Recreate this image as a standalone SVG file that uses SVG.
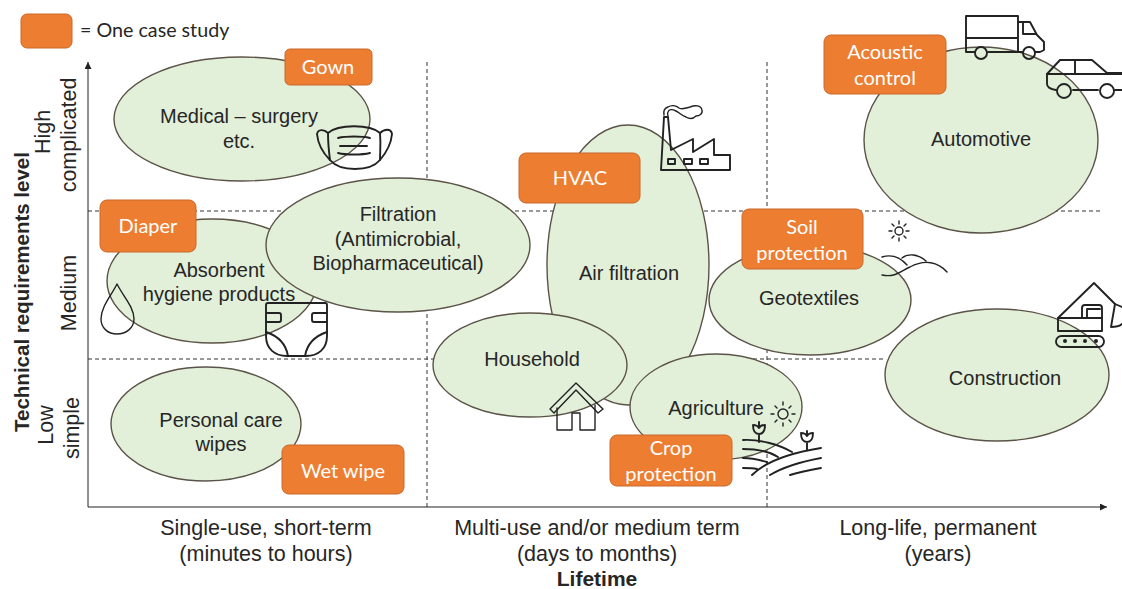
<svg xmlns="http://www.w3.org/2000/svg" width="1122" height="589" viewBox="0 0 1122 589">
<style>
.e{fill:#e2efd9;stroke:#5b5347;stroke-width:1.4}
.b{fill:#ed7d31;stroke:#c9682a;stroke-width:1}
.t{font-family:"Liberation Sans",Arial,sans-serif;font-size:20px;fill:#262626;text-anchor:middle}
.x{font-family:"Liberation Sans",Arial,sans-serif;font-size:21.5px;fill:#262626;text-anchor:middle}
.o{font-family:Lato,"Noto Sans",sans-serif;font-size:20px;fill:#fff;text-anchor:middle}
.l{font-family:Lato,"Noto Sans",sans-serif;font-size:19.7px;fill:#262626}
.h{font-family:"Liberation Sans",Arial,sans-serif;font-size:20.5px;font-weight:bold;fill:#262626;text-anchor:middle}
.d{stroke:#333;stroke-width:1;stroke-dasharray:4 3;fill:none}
.a{stroke:#222;stroke-width:1;fill:none}
.i{fill:none;stroke:#222;stroke-width:1.9;stroke-linecap:round;stroke-linejoin:round}
.i1{fill:none;stroke:#222;stroke-width:1.4;stroke-linecap:round;stroke-linejoin:round}
</style>
<defs>
<marker id="ah" markerWidth="8" markerHeight="8" refX="7" refY="3.5" orient="auto" markerUnits="userSpaceOnUse"><path d="M0 0L7 3.5L0 7Z" fill="#222"/></marker>
</defs>
<rect width="1122" height="589" fill="#fff"/>
<g id="connectors">
<path class="d" d="M88 211H1103M88 359H884M427 62V507M767 62V507"/>
<path class="a" d="M88 507V62" marker-end="url(#ah)"/>
<path class="a" d="M88 507H1107" marker-end="url(#ah)"/>
</g>
<g id="legend"><rect class="b" x="21" y="14" width="51" height="34" rx="6"/><text class="l" x="80" y="37">= One case study</text></g>
<g id="medical"><ellipse class="e" cx="242" cy="119" rx="128" ry="62"/><text class="t" x="239" y="123">Medical – surgery</text><text class="t" x="239" y="148">etc.</text></g>
<g id="absorbent"><ellipse class="e" cx="212" cy="281" rx="105" ry="62"/><text class="t" x="219" y="277">Absorbent</text><text class="t" x="219" y="301">hygiene products</text></g>
<g id="filtration"><ellipse class="e" cx="398" cy="245" rx="132" ry="67"/><text class="t" x="398" y="221">Filtration</text><text class="t" x="398" y="246">(Antimicrobial,</text><text class="t" x="398" y="270">Biopharmaceutical)</text></g>
<g id="personal"><ellipse class="e" cx="206" cy="424" rx="95" ry="57"/><text class="t" x="221" y="427">Personal care</text><text class="t" x="221" y="451">wipes</text></g>
<g id="air"><ellipse class="e" cx="628" cy="265" rx="81" ry="140"/><text class="t" x="629" y="280">Air filtration</text></g>
<g id="agriculture"><ellipse class="e" cx="716" cy="407" rx="86" ry="53"/><text class="t" x="716" y="415">Agriculture</text></g>
<g id="household"><ellipse class="e" cx="530" cy="365" rx="97" ry="52"/><text class="t" x="532" y="366">Household</text></g>
<g id="geotextiles"><ellipse class="e" cx="810" cy="300" rx="101" ry="55"/><text class="t" x="809" y="305">Geotextiles</text></g>
<g id="automotive"><ellipse class="e" cx="981" cy="140" rx="117" ry="93"/><text class="t" x="981" y="146">Automotive</text></g>
<g id="construction"><ellipse class="e" cx="997" cy="375" rx="112" ry="66"/><text class="t" x="1005" y="385">Construction</text></g>

<g id="gown"><rect class="b" x="285" y="49" width="87" height="36" rx="5"/><text class="o" x="328" y="74">Gown</text></g>
<g id="acoustic"><rect class="b" x="824" y="35" width="122" height="59" rx="7"/><text class="o" x="885" y="59">Acoustic</text><text class="o" x="885" y="85">control</text></g>
<g id="hvac"><rect class="b" x="519" y="153" width="121" height="50" rx="7"/><text class="o" x="580" y="185">HVAC</text></g>
<g id="diaper"><rect class="b" x="100" y="200" width="96" height="52" rx="7"/><text class="o" x="148" y="233">Diaper</text></g>
<g id="soil"><rect class="b" x="742" y="209" width="121" height="60" rx="7"/><text class="o" x="802" y="234">Soil</text><text class="o" x="802" y="260">protection</text></g>
<g id="crop"><rect class="b" x="610" y="435" width="122" height="51" rx="7"/><text class="o" x="671" y="455">Crop</text><text class="o" x="671" y="481">protection</text></g>
<g id="wetwipe"><rect class="b" x="282" y="445" width="122" height="49" rx="7"/><text class="o" x="343" y="478">Wet wipe</text></g>

<g id="mask-icon" class="i"><path d="M328 133C338 124 370 124 380 133C381 145 380 152 380 160C370 172 340 172 330 160C329 152 328 145 328 133Z"/><path d="M328 133C324 129 318 129 317 134C318 145 323 153 330 160M380 133C384 129 391 128 392 134C391 145 386 153 380 160"/><path d="M338 138C346 136 362 136 370 138M340 146H367M338 153C346 155 362 155 370 153"/></g>
<g id="drop-icon" class="i1"><path d="M117 284C111 296 101 307 101 319C101 328 108 334 117 334C126 334 134 328 134 319C134 307 123 296 117 284Z"/></g>
<g id="diaper-icon" class="i"><path d="M268 303H325Q327 303 327 305V336C327 349 318 356 306 356H287C275 356 266 349 266 336V305Q266 303 268 303Z"/><path d="M267 313H279Q281 313 281 315V320Q281 322 279 322H267M326 313H314Q312 313 312 315V320Q312 322 314 322H326"/><path d="M266 332C278 336 286 344 288 356M327 332C315 336 307 344 305 356"/></g>
<g id="factory-icon" class="i"><path d="M661 170L664 117H668L671 150L693 139V152L714 139V155H730V170Z"/><rect x="668" y="159" width="7" height="5"/><rect x="684" y="159" width="8" height="5"/><rect x="700" y="159" width="8" height="5"/></g>
<g id="smoke" class="i1"><path d="M664 115C663 110 665 108 668 107C671 105 676 105 679 108C682 110 685 108 690 107C695 105 701 105 702 110C703 114 699 116 696 116C693 119 689 119 686 117C682 116 680 113 676 111C672 109 669 109 668 112C667 113 668 115 668 116"/></g>
<g id="house-icon" class="i1"><path d="M550 409L576 383L603 409L598 413L576 390L554 413Z"/><path d="M557 408V430H572V413H580V430H595V405"/></g>
<g id="sun-small" class="i1"><circle cx="783" cy="414" r="5"/><path d="M783 402V405M783 423V426M771 414H774M792 414H795M775 406L777 408M789 420L791 422M791 406L789 408M777 420L775 422"/></g>
<g id="field-icon" class="i"><path d="M743 440C760 439 780 445 792 452M743 449C760 449 770 452 778 457M743 458C752 458 760 460 767 462M743 468C749 468 753 468 757 469M752 475C765 462 790 453 821 448M770 475C785 466 805 461 821 458M790 475C800 472 810 470 821 468"/><path d="M759 442V434M759 434C755 434 753 431 753 425C756 425 758 426 759 428C760 426 762 425 765 425C765 431 763 434 759 434ZM759 428V422"/><path d="M807 450V442M807 442C803 442 801 439 801 433C804 433 806 434 807 436C808 434 810 433 813 433C813 439 811 442 807 442ZM807 436V431"/></g>
<g id="truck-icon" class="i"><path d="M966 16H1018V52M966 16V52H975M966 38H1018M988 52H1022"/><path d="M1018 22H1030L1037 35L1044 42V50L1040 52H1035"/><path d="M1023 23V34H1036"/><circle cx="981" cy="53" r="6"/><circle cx="1029" cy="53" r="6"/></g>
<g id="car-icon" class="i"><path d="M1047 74L1060 60H1092L1107 73H1122"/><path d="M1047 74H1122M1075 60V73"/><path d="M1047 74V84C1047 87 1050 89 1056 90M1073 90H1098M1115 90H1122"/><circle cx="1064" cy="91" r="7"/><circle cx="1107" cy="91" r="7"/></g>
<g id="sun-large" class="i1"><circle cx="899" cy="231" r="4"/><path d="M899 221V224M899 238V241M889 231H892M906 231H909M892 224L894 226M904 236L906 238M906 224L904 226M894 236L892 238"/></g>
<g id="hills-icon" class="i1"><path d="M882 257C892 254 900 257 907 265M902 258C908 253 918 254 926 261M882 275C896 278 902 270 910 267C925 259 938 262 947 272"/></g>
<g id="excavator-icon" class="i"><path d="M1058 318L1094 283L1115 304"/><path d="M1058 318H1102V331H1058Z"/><path d="M1082 318V308Q1082 305 1085 305H1099Q1102 305 1102 308V318"/><path d="M1087 318V309H1100"/><rect x="1056" y="336" width="48" height="11" rx="5.5"/><path d="M1122 307L1115 304L1111 327C1116 327 1120 326 1122 324"/><g fill="#222" stroke="none"><circle cx="1065" cy="341" r="2"/><circle cx="1075" cy="341" r="2"/><circle cx="1085" cy="341" r="2"/><circle cx="1096" cy="341" r="2"/></g></g>

<g id="axis-labels">
<text class="x" x="266" y="535">Single-use, short-term</text><text class="x" x="266" y="561">(minutes to hours)</text>
<text class="x" x="597" y="535">Multi-use and/or medium term</text><text class="x" x="597" y="561">(days to months)</text>
<text class="x" x="938" y="535">Long-life, permanent</text><text class="x" x="938" y="561">(years)</text>
<text class="h" x="597" y="586" style="font-size:21px">Lifetime</text>
<text class="h" transform="translate(29 292) rotate(-90)">Technical requirements level</text>
<text class="x" transform="translate(50 132) rotate(-90)">High</text><text class="x" transform="translate(76 135) rotate(-90)">complicated</text>
<text class="x" transform="translate(76 293) rotate(-90)">Medium</text>
<text class="x" transform="translate(53 425) rotate(-90)">Low</text><text class="x" transform="translate(79 428) rotate(-90)">simple</text>
</g>
</svg>
